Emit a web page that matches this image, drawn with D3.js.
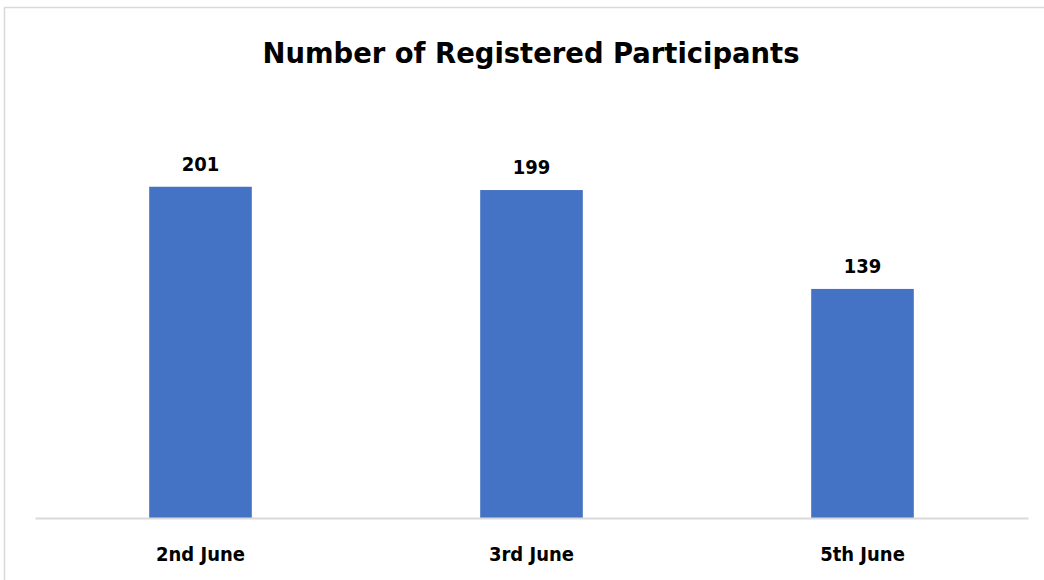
<!DOCTYPE html>
<html>
<head>
<meta charset="utf-8">
<script src="https://cdn.jsdelivr.net/npm/d3@7"></script>
<style>
  html, body { margin: 0; padding: 0; background: #fff; }
  svg { display: block; }
  text { font-family: "Liberation Sans Narrow", "DejaVu Sans Condensed", "Liberation Sans", sans-serif; font-weight: bold; fill: #000; }
</style>
</head>
<body>
<div id="main"></div>
<script>
const categories = ['2nd June', '3rd June', '5th June'];
const participants = [201, 199, 139];
const yMax = 250;
const title = 'Number of Registered Participants';

const width = 1044;
const height = 580;
const plot = { left: 35, right: 1028, top: 106, bottom: 518 };

const svg = d3.select('#main').append('svg')
  .attr('width', width)
  .attr('height', height);

// chart frame
svg.append('rect')
  .attr('x', 4.5)
  .attr('y', 7.5)
  .attr('width', width + 10)
  .attr('height', height + 10)
  .attr('fill', '#fff')
  .attr('stroke', '#d9d9d9')
  .attr('stroke-width', 1.5);

svg.append('text')
  .attr('x', 531)
  .attr('y', 63)
  .attr('text-anchor', 'middle')
  .attr('font-size', 28)
  .attr('textLength', 537)
  .attr('lengthAdjust', 'spacingAndGlyphs')
  .text(title);

const x = d3.scaleBand()
  .domain(categories)
  .range([plot.left, plot.right])
  .paddingInner(0.69)
  .paddingOuter(0.345);

const y = d3.scaleLinear()
  .domain([0, yMax])
  .range([plot.bottom, plot.top]);

const data = categories.map((c, i) => ({ cat: c, value: participants[i] }));

svg.selectAll('.bar')
  .data(data)
  .enter().append('rect')
  .attr('class', 'bar')
  .attr('x', d => x(d.cat))
  .attr('width', x.bandwidth())
  .attr('y', d => y(d.value))
  .attr('height', d => y(0) - y(d.value))
  .attr('fill', '#4472c4');

svg.selectAll('.value-label')
  .data(data)
  .enter().append('text')
  .attr('class', 'value-label')
  .attr('x', d => x(d.cat) + x.bandwidth() / 2)
  .attr('y', d => y(d.value) - 16)
  .attr('text-anchor', 'middle')
  .attr('font-size', 20)
  .text(d => d.value);

// x axis
const xAxis = svg.append('g')
  .attr('transform', 'translate(0,' + plot.bottom + ')')
  .call(d3.axisBottom(x).tickSize(0).tickPadding(0));

xAxis.select('.domain')
  .attr('stroke', '#d9d9d9')
  .attr('stroke-width', 2);

xAxis.selectAll('text')
  .attr('dy', null)
  .attr('y', 43)
  .attr('font-size', 20)
  .attr('fill', '#000')
  .style('font-family', '"Liberation Sans Narrow", "DejaVu Sans Condensed", "Liberation Sans", sans-serif');
</script>
</body>
</html>
